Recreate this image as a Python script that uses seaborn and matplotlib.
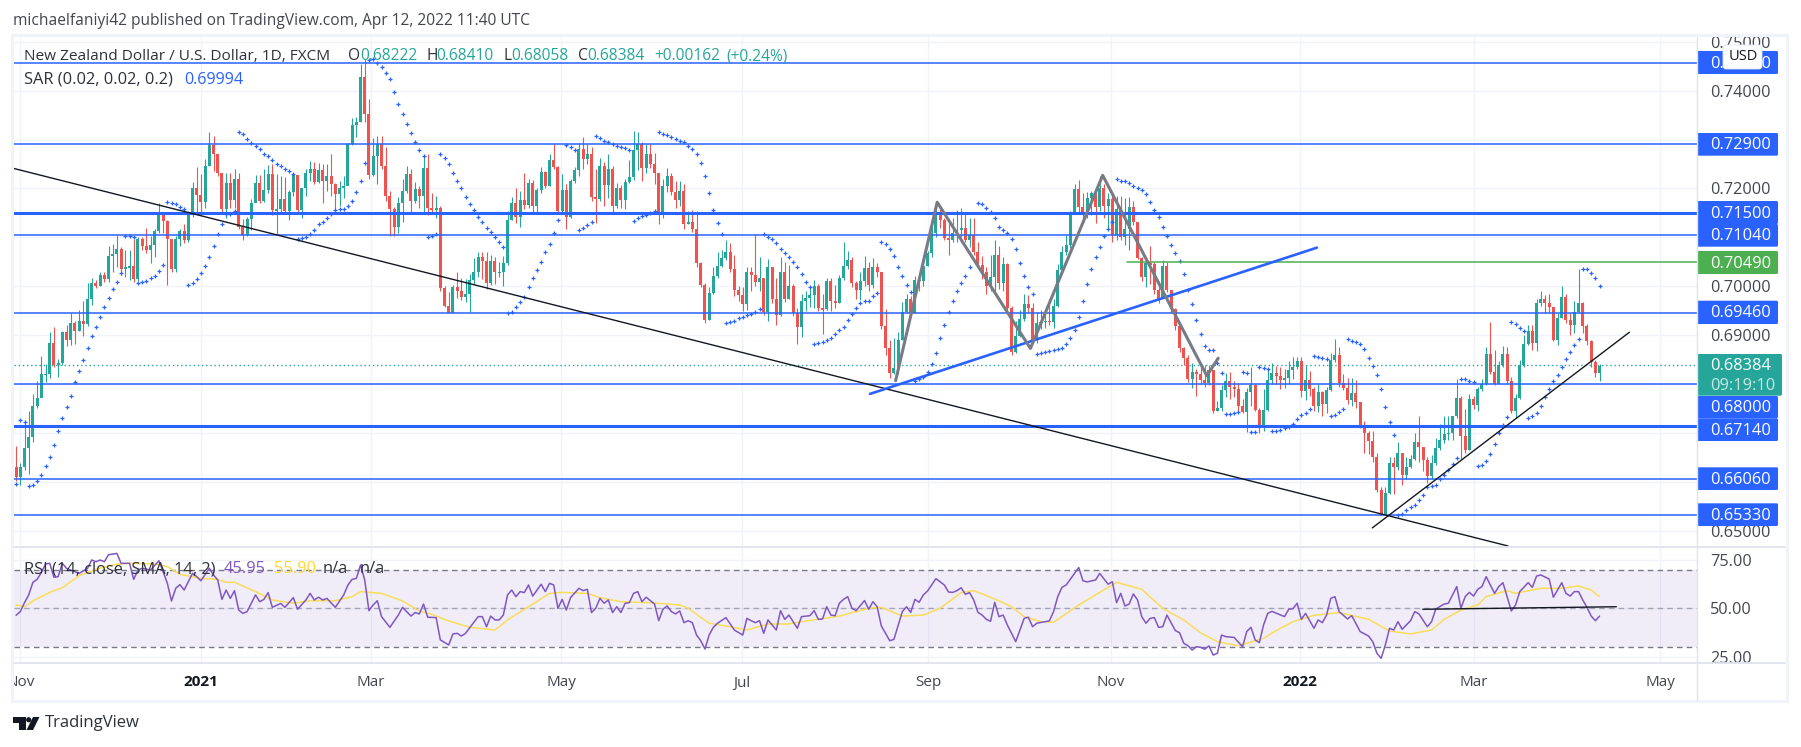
import numpy as np
import pandas as pd
import matplotlib
matplotlib.use('Agg')
import matplotlib.pyplot as plt
from matplotlib.patches import Rectangle, FancyBboxPatch, Polygon, Circle
import seaborn as sns

# ---------- data (prices in pips, 1/10000) ----------
first_open = 6631
closes = [
    6610,6631,6670,6692,6756,6772,6821,6821,6884,6839,
    6843,6907,6891,6925,6909,6929,6923,6974,7006,7000,
    7024,7014,7062,7067,7076,7035,7040,7041,7014,7096,
    7082,7075,7085,7113,7145,7134,7096,7035,7096,7113,
    7094,7149,7200,7186,7173,7247,7288,7270,7232,7159,
    7212,7176,7220,7122,7105,7138,7170,7212,7174,7196,
    7230,7156,7158,7178,7153,7193,7227,7156,7200,7232,
    7240,7213,7237,7215,7225,7210,7188,7200,7205,7292,
    7329,7336,7429,7353,7227,7266,7292,7246,7185,7158,
    7122,7170,7194,7229,7174,7198,7185,7241,7161,7157,
    7160,6996,6960,6946,6999,6990,6978,6985,7013,7030,
    7060,7052,7006,7052,7030,7030,7047,7135,7171,7142,
    7176,7166,7211,7165,7196,7234,7206,7258,7243,7155,
    7196,7142,7215,7237,7280,7261,7271,7183,7179,7247,
    7207,7239,7165,7202,7176,7213,7223,7278,7292,7241,
    7270,7251,7232,7145,7206,7225,7193,7176,7195,7128,
    7132,7118,7047,7003,6931,6986,7021,7042,7058,7070,
    7035,6992,6982,6964,7030,7023,7008,7016,6948,7040,
    6975,6942,7030,6975,7000,6945,6916,6969,6976,6982,
    7001,6955,6953,7010,6970,6966,7016,7042,7053,7006,
    6992,7010,7037,7003,7040,7030,6918,6874,6823,6833,
    6891,6948,6974,6945,7013,7010,7042,7068,7108,7150,
    7135,7098,7095,7108,7115,7120,7095,7105,7070,7043,
    7030,7000,7020,7065,7006,7045,6955,6865,6899,6933,
    6964,6955,6891,6925,6928,6930,6926,6960,7033,7070,
    7084,7152,7198,7162,7150,7180,7190,7163,7200,7165,
    7178,7104,7159,7100,7118,7162,7132,7058,7020,7047,
    7045,6992,6975,7042,6992,6953,6918,6874,6853,6810,
    6824,6820,6808,6802,6828,6744,6752,6787,6806,6794,
    6791,6755,6743,6784,6799,6748,6710,6748,6809,6823,
    6817,6809,6812,6828,6834,6848,6785,6809,6791,6755,
    6783,6760,6787,6850,6860,6802,6792,6767,6782,6763,
    6712,6700,6684,6651,6583,6534,6578,6639,6630,6659,
    6614,6631,6647,6681,6671,6644,6613,6639,6670,6686,
    6697,6700,6734,6771,6693,6666,6770,6758,6789,6801,
    6862,6824,6801,6840,6862,6806,6744,6772,6840,6882,
    6908,6885,6965,6974,6965,6958,6890,6936,6978,6931,
    6920,6947,6965,6918,6888,6845,6822,6838]
highs = [
    6674,6638,6724,6746,6780,6806,6858,6842,6907,6917,
    6852,6909,6920,6946,6929,6952,6969,7006,7018,7012,
    7030,7030,7082,7086,7105,7081,7075,7074,7096,7100,
    7100,7120,7102,7118,7170,7152,7135,7096,7102,7118,
    7127,7155,7213,7243,7230,7260,7316,7307,7262,7232,
    7232,7232,7240,7232,7137,7142,7178,7227,7228,7240,
    7248,7250,7230,7225,7224,7196,7230,7228,7200,7240,
    7256,7254,7253,7250,7250,7270,7212,7215,7225,7294,
    7345,7346,7455,7465,7382,7304,7308,7308,7284,7195,
    7162,7182,7220,7245,7240,7214,7205,7268,7270,7190,
    7185,7165,7000,6988,7002,7030,7018,7015,7026,7058,
    7070,7070,7070,7063,7060,7050,7061,7155,7182,7200,
    7195,7232,7220,7218,7200,7243,7235,7270,7290,7246,
    7230,7210,7220,7243,7294,7306,7290,7285,7240,7262,
    7255,7270,7245,7212,7208,7220,7258,7317,7316,7296,
    7290,7290,7273,7232,7220,7242,7232,7215,7216,7210,
    7155,7156,7154,7050,7006,6998,7040,7070,7075,7094,
    7088,7065,7000,6998,7040,7040,7106,7060,7018,7055,
    7012,7016,7060,7050,7044,7005,6955,6985,6990,7000,
    7012,7004,6985,7018,7018,7003,7024,7090,7073,7060,
    7010,7030,7062,7050,7057,7048,7030,6953,6890,6894,
    6907,6968,6985,6980,7022,7020,7063,7072,7130,7170,
    7165,7140,7130,7140,7157,7160,7150,7140,7140,7090,
    7062,7040,7064,7094,7083,7060,7048,6960,6930,6952,
    6984,6982,6965,6948,6952,6950,6975,6975,7046,7083,
    7104,7155,7210,7218,7190,7192,7195,7185,7226,7210,
    7190,7184,7184,7184,7180,7182,7175,7130,7060,7050,
    7082,7050,7010,7054,7050,6990,6955,6925,6875,6860,
    6843,6830,6835,6840,6840,6818,6765,6798,6822,6825,
    6806,6802,6770,6792,6835,6800,6752,6790,6830,6843,
    6838,6835,6830,6848,6856,6855,6856,6840,6827,6794,
    6800,6785,6795,6864,6893,6875,6820,6812,6813,6808,
    6759,6725,6705,6705,6660,6590,6590,6650,6650,6682,
    6655,6650,6655,6700,6735,6672,6650,6655,6690,6719,
    6735,6735,6735,6810,6775,6750,6780,6775,6795,6810,
    6875,6927,6870,6848,6878,6875,6815,6780,6850,6900,
    6920,6920,6975,6990,6983,6985,6950,6945,7000,6984,
    6945,6970,7035,6968,6923,6890,6850,6841]
lows = [
    6602,6593,6624,6617,6681,6751,6785,6805,6812,6836,
    6814,6839,6877,6879,6881,6908,6899,6918,6962,6996,
    7000,7008,7008,7030,7040,7024,7020,7012,7008,7010,
    7075,7068,7047,7059,7110,7110,7003,7030,7030,7083,
    7088,7090,7142,7150,7152,7160,7245,7236,7225,7150,
    7140,7160,7160,7118,7095,7103,7115,7172,7170,7172,
    7190,7145,7105,7150,7150,7135,7185,7150,7140,7185,
    7215,7210,7212,7170,7195,7185,7158,7165,7180,7215,
    7288,7305,7335,7337,7220,7225,7210,7240,7175,7102,
    7102,7108,7132,7190,7152,7170,7160,7150,7145,7150,
    7140,6990,6957,6945,6945,6976,6973,6968,6947,7005,
    7020,7015,6995,7003,7005,7020,7000,7044,7135,7130,
    7122,7158,7160,7150,7150,7190,7200,7205,7240,7150,
    7150,7117,7140,7212,7225,7240,7250,7175,7130,7175,
    7165,7180,7150,7160,7160,7158,7212,7217,7238,7215,
    7232,7242,7210,7127,7140,7193,7186,7160,7165,7118,
    7128,7112,7040,6998,6925,6931,6985,7018,7040,7053,
    7030,6980,6970,6950,6952,6990,7000,6990,6941,6930,
    6965,6920,6940,6968,6974,6940,6883,6897,6950,6957,
    6955,6950,6903,6952,6950,6955,6965,7012,7035,6998,
    6975,6972,7000,6990,6997,7020,6912,6859,6812,6820,
    6820,6890,6945,6940,6946,6990,7000,7042,7060,7100,
    7120,7095,7065,7090,7090,7100,7090,7080,7065,7040,
    7015,6985,6990,6990,6995,6990,6950,6860,6863,6896,
    6930,6945,6885,6885,6912,6915,6920,6914,6958,7030,
    7065,7078,7148,7150,7130,7140,7145,7130,7155,7140,
    7120,7090,7095,7095,7085,7075,7125,7055,7010,6998,
    7005,6985,6965,6990,6988,6945,6910,6865,6840,6805,
    6792,6775,6800,6795,6798,6740,6745,6745,6773,6770,
    6773,6745,6740,6703,6755,6745,6700,6705,6744,6800,
    6800,6790,6792,6800,6810,6830,6773,6768,6775,6745,
    6743,6735,6740,6785,6845,6795,6787,6760,6755,6752,
    6710,6660,6658,6640,6580,6532,6540,6575,6575,6625,
    6593,6605,6628,6645,6640,6623,6597,6605,6635,6665,
    6680,6685,6685,6730,6647,6660,6665,6750,6745,6785,
    6798,6820,6798,6800,6835,6800,6740,6730,6770,6835,
    6880,6870,6868,6960,6945,6945,6888,6880,6935,6925,
    6900,6905,6945,6905,6880,6835,6815,6806]
nan = float('nan')
sar = [
    6596,6727,6723,6591,6594,6602,6615,6633,6651,6676,
    6704,6731,6753,6776,6804,6827,6849,6874,6898,6916,
    6937,6957,6976,6994,7008,7028,7103,7103,7101,7006,
    7008,7011,7016,7022,7032,7044,7172,7171,7168,7162,
    7158,7002,7006,7014,7028,7041,7060,7083,7107,7128,
    7147,7147,7155,7316,7312,7302,7293,7287,7280,7271,
    7266,7259,7251,7245,7239,7236,7229,7096,7098,7101,
    7107,7116,7127,7132,7139,7147,7157,7158,7159,7165,
    7174,7193,7215,7252,7463,7464,7456,7448,7436,7424,
    7398,7373,7353,7332,7314,7295,7279,7266,7100,7103,
    7106,7270,7263,7251,7232,7216,7200,7183,7169,7157,
    7142,7132,7120,7111,7100,7090,7081,6945,6948,6957,
    6967,6979,6999,7018,7034,7050,7071,7087,7110,7135,
    nan,7288,7284,7279,7116,7120,7125,7131,7307,7304,
    7298,7295,7291,7287,7285,7283,7279,7134,7139,7143,
    7146,7150,7154,7316,7312,7309,7305,7302,7298,7295,
    7287,7281,7271,7253,7226,7190,7157,7130,7106,6925,
    6927,6930,6935,6937,6942,6943,6947,6953,7106,7101,
    7096,7088,7077,7069,7059,7050,7040,7025,7009,6998,
    6882,6884,6887,6890,6894,6902,6910,6916,6931,6943,
    6955,6965,6969,6969,6980,6987,7090,7086,7077,7061,
    7040,7022,7003,6988,6806,6811,6814,6825,6841,6863,
    6894,6920,6947,6969,6990,7006,7022,7039,nan,7171,
    7168,7161,7151,7139,7122,7115,7108,7096,7077,7047,
    7022,6998,6984,6861,6863,6865,6867,6870,6872,6874,
    6882,6894,6911,6937,6969,7004,7035,7059,7081,7102,
    7118,7132,7219,7216,7215,7212,7206,7200,7196,7188,
    7173,7156,7141,7122,7102,7084,7069,7051,7026,6993,
    6964,6931,6903,6878,6870,6870,6843,6823,6739,6739,
    6740,6743,6824,6823,6702,6702,6835,6833,6831,6704,
    6705,6706,6710,6713,6719,6728,6736,6741,6749,6857,
    6856,6853,6851,6735,6737,6743,6750,6892,6889,6886,
    6882,6872,6853,6838,6818,6790,6753,6723,6696,6532,
    6534,6542,6549,6552,6563,6574,6589,6591,6593,6605,
    6615,6625,6636,6649,6810,6810,6807,6804,6632,6635,
    6642,6658,6678,6699,6716,6733,6927,6923,6914,6908,
    6731,6735,6741,6755,6774,6791,6806,6819,6836,6851,
    6865,6880,6892,7035,7035,7028,7016,7000]

rsi_bars = [0,1,2,3,4,5,6,7,8,9,10,11,12,13,14,15,17,18,19,20,21,22,24,25,27,28,29,30,32,34,35,36,37,38,39,40,42,43,44,46,47,48,49,50,51,52,53,54,55,57,58,59,60,61,63,64,66,67,69,70,71,72,73,74,76,78,79,80,81,82,83,84,85,86,87,89,91,92,94,95,96,97,98,100,101,103,104,105,106,107,110,111,112,113,114,115,116,117,118,119,120,121,122,123,125,126,127,128,129,130,131,132,134,135,136,137,138,139,
    140,141,142,143,144,145,146,147,148,149,150,151,152,153,154,155,156,157,158,159,160,161,162,163,164,165,166,167,169,171,173,174,175,176,177,178,179,181,182,183,184,186,187,189,190,191,192,193,194,195,196,197,198,199,200,202,203,204,205,206,208,209,211,212,213,214,215,216,217,219,221,222,223,224,225,226,227,228,229,230,231,232,233,234,235,236,238,240,241,242,243,246,247,248,249,250,253,254,255,257,258,260,261,262,263,264,265,266,267,268,269,270,271,272,273,274,276,277,278,279,280,281,282,
    283,284,285,286,287,288,290,292,293,294,295,296,297,298,299,302,303,304,305,306,307,309,310,311,312,313,314,315,317,318,320,322,323,324,325,326,327,328,329,330,332,333,334,336,337,338,340,341,343,344,345,346,347,348,349,350,352,353,354,356,357,358,360,361,362,363,365,366,368,369,370,371,372,373,374,375,376,377]
rsi_vals = [46.4,48.3,52.9,56.9,63.4,64.9,68.4,72.8,73.2,66.0,66.3,73.2,70.6,69.7,68.9,68.0,70.6,74.9,74.0,74.9,74.0,77.6,78.3,73.2,73.2,64.9,69.7,70.6,69.7,74.5,68.9,62.9,53.8,60.3,62.2,59.4,68.0,66.3,64.2,70.6,67.2,64.6,54.6,59.4,55.1,59.1,49.1,47.4,48.3,56.9,53.4,54.6,58.1,50.5,52.5,50.5,55.5,49.5,54.3,57.7,54.3,55.7,54.3,55.1,50.5,56.9,62.0,64.9,65.4,72.3,64.6,48.8,51.7,53.9,45.7,40.2,46.5,50.5,46.0,47.8,47.1,52.2,45.4,45.2,33.7,31.1,36.8,37.1,35.7,37.1,45.7,45.7,40.5,46.0,44.0,44.0,46.5,56.9,59.4,56.0,58.6,58.1,62.0,56.3,62.4,58.6,62.9,62.0,50.0,54.6,49.1,55.5,60.3,59.1,59.8,47.8,50.0,55.1,
    52.6,54.3,47.8,50.8,47.8,52.6,52.9,57.7,58.6,53.4,55.7,54.0,52.2,43.6,49.5,51.2,48.3,47.1,48.6,42.6,43.6,42.6,36.2,33.3,29.0,36.2,40.2,42.3,45.2,38.8,36.2,44.8,43.6,42.6,43.6,37.1,44.0,38.8,48.8,44.3,46.5,39.7,45.7,46.2,48.8,44.3,44.5,50.8,46.5,46.2,52.6,54.6,56.0,50.0,48.8,54.0,49.5,53.4,50.8,40.9,33.3,34.0,48.3,50.8,47.9,54.6,53.1,56.9,58.9,65.3,62.0,58.4,58.2,59.1,60.6,57.2,58.1,54.3,47.9,46.5,44.3,43.3,53.1,45.7,46.5,41.4,32.8,44.8,45.4,40.5,42.3,43.5,48.3,56.0,60.8,62.0,71.0,64.2,63.6,64.6,68.0,62.4,63.7,52.9,57.7,51.2,52.2,57.4,54.3,45.7,42.3,44.8,45.2,40.2,40.5,46.5,38.5,37.4,32.0,30.7,28.5,30.2,29.9,
    28.9,30.6,25.9,26.8,36.2,35.4,35.0,30.2,38.0,40.2,33.7,32.3,41.4,47.4,48.4,45.7,49.5,49.8,52.6,44.3,47.4,39.7,44.0,42.6,46.5,55.1,56.0,48.3,44.5,46.2,38.0,35.7,32.8,26.8,24.2,31.1,39.7,38.8,43.1,39.2,43.6,48.3,47.1,40.5,43.1,49.6,52.2,52.6,61.2,50.0,56.0,58.2,56.3,59.8,61.2,66.3,57.7,61.2,63.2,48.6,51.7,58.6,63.2,60.8,66.6,67.2,65.1,55.7,63.2,57.7,56.3,58.6,58.6,54.3,50.5,46.0,43.6,46.0]
ma_bars = [0,2,4,8,11,15,19,24,28,33,36,39,44,48,50,52,57,61,66,70,76,80,82,87,92,96,99,103,108,114,117,122,127,130,136,139,144,151,158,160,165,170,174,179,184,187,196,203,206,211,216,220,225,228,233,237,240,244,247,253,257,262,268,273,278,282,286,291,297,300,304,309,315,322,327,332,337,340,344,348,350,355,357,363,368,372,375,377]
ma_vals = [51.7,50.8,53.8,58.2,60.6,66.8,70.1,72.8,73.2,72.8,71.5,67.5,65.4,64.9,63.4,63.4,58.6,54.3,52.6,53.9,53.9,56.0,58.6,57.7,53.8,48.6,46.9,43.5,40.2,38.8,44.0,50.8,57.7,58.2,57.7,55.5,53.4,52.9,51.7,50.0,42.3,40.5,38.8,41.9,41.9,43.1,46.0,50.0,50.5,46.0,46.5,50.0,58.1,59.1,54.8,50.8,45.7,43.1,42.8,51.7,56.9,63.4,59.8,50.0,44.0,37.4,32.8,30.7,34.5,38.5,43.1,46.4,47.8,44.3,38.3,36.8,38.8,44.3,49.1,51.7,56.0,59.1,57.7,60.3,60.3,61.5,59.4,56.0]

tick_bars = [1.0,44.1,84.4,129.8,172.9,217.2,260.6,305.7,347.1,391.4]
tick_labels = ['Nov','2021','Mar','May','Jul','Sep','Nov','2022','Mar','May']
price_ticks = [0.65,0.66,0.67,0.68,0.69,0.70,0.71,0.72,0.73,0.74,0.75]
price_tick_labels = ['0.65000','','','','0.69000','0.70000','','0.72000','','0.74000','0.75000']
thin_levels = [0.7457,0.7290,0.7104,0.6946,0.6800,0.6606,0.6533]
thick_levels = [0.7150,0.6714]
last_price = 0.68384
green_level = 0.7049

down_line_x, down_line_y = [-0.55,355.2], [0.7241,0.6469]
up_blue_x, up_blue_y = [203.3,309.7], [0.6780,0.7079]
up_black_x, up_black_y = [322.9,384.1], [0.6506,0.6906]
pattern_x = [209.4,219.3,241.5,258.7,283.5,286.2]
pattern_y = [0.6807,0.7172,0.6873,0.7227,0.6817,0.6853]
green_x, green_y = [264.5,400.2], [green_level,green_level]
rsi_trend_x, rsi_trend_y = [334.9,381.0], [49.5,50.8]

# ---------- frame layout, in pixels ----------
W, H = 1801, 747
PANE_L, PANE_R = 13.8, 1697
MAIN_T, MAIN_B, RSI_B, FRAME_B = 37, 547, 663, 700

GREEN, RED, BLUE = '#26a69a', '#ef5350', '#2962ff'
GRID = '#f0f3fa'
BORDER = '#e0e3eb'
TXT = '#2e313a'

sns.set_theme(style='white')
plt.rcParams['font.family'] = ['Open Sans', 'DejaVu Sans']

def box(l, t, r, b):
    return [l / W, 1 - b / H, (r - l) / W, (b - t) / H]

fig = plt.figure(figsize=(W / 100, H / 100), dpi=100, facecolor='white')
ax = fig.add_axes(box(PANE_L, MAIN_T, PANE_R, MAIN_B))
ax_rsi = fig.add_axes(box(PANE_L, MAIN_B, PANE_R, RSI_B))

# ---------- price pane ----------
df = pd.DataFrame({'bar': np.arange(len(closes)), 'close': closes, 'high': highs, 'low': lows, 'sar': sar})
for c in ['close', 'high', 'low', 'sar']:
    df[c] = df[c] / 10000
df['open'] = df['close'].shift(1).fillna(first_open / 10000)
df['up'] = df['close'] >= df['open']
df['color'] = df['up'].map({True: GREEN, False: RED})
df['top'] = df[['open', 'close']].max(axis=1)
df['height'] = (df['close'] - df['open']).abs().clip(lower=0.0003)

ax.vlines(df['bar'], df['low'], df['high'], colors=df['color'], linewidth=0.8, zorder=3)
ax.bar(df['bar'], df['height'], bottom=df['top'] - df['height'], width=0.7, color=df['color'], linewidth=0, zorder=3)
sns.scatterplot(data=df, x='bar', y='sar', marker='+', color=BLUE, s=7, linewidth=0.9, ax=ax, zorder=4)

for lvl in thin_levels:
    ax.axhline(lvl, color=BLUE, lw=1.1, zorder=5)
for lvl in thick_levels:
    ax.axhline(lvl, color=BLUE, lw=2.2, zorder=5)
ax.axhline(last_price, color=GREEN, lw=1, ls=(0, (1, 2)), zorder=2)

sns.lineplot(x=green_x, y=green_y, color='#4caf50', lw=1.1, ax=ax, zorder=5)
sns.lineplot(x=down_line_x, y=down_line_y, color='#131722', lw=1.0, ax=ax, zorder=6)
sns.lineplot(x=up_black_x, y=up_black_y, color='#131722', lw=1.0, ax=ax, zorder=6)
sns.lineplot(x=up_blue_x, y=up_blue_y, color=BLUE, lw=1.9, ax=ax, zorder=6)
sns.lineplot(x=pattern_x, y=pattern_y, color='#787b86', lw=2.2, ax=ax, zorder=6)

ax.set_xlim(-0.55, 400.2)
ax.set_ylim(0.64669, 0.75098)
ax.set_xticks(tick_bars)
ax.set_xticklabels([])
ax.set_yticks(price_ticks)
ax.set_yticklabels(price_tick_labels)
ax.yaxis.tick_right()
ax.tick_params(axis='y', length=0, pad=9.3, labelsize=11.7, labelcolor='#434651')
ax.tick_params(axis='x', length=0)
ax.grid(True, color=GRID, lw=1, zorder=0)
ax.set_axisbelow(True)
ax.set_xlabel('')
ax.set_ylabel('')
for s in ax.spines.values():
    s.set_visible(False)

# ---------- RSI pane ----------
ax_rsi.axhspan(30, 70, color='#7e57c2', alpha=0.1, lw=0, zorder=1)
for lvl, alpha in [(70, 1), (50, 0.6), (30, 1)]:
    ax_rsi.axhline(lvl, color='#787b86', lw=1, ls=(0, (4, 3)), alpha=alpha, zorder=2)
sns.lineplot(x=rsi_bars, y=rsi_vals, color='#7e57c2', lw=1.1, estimator=None, ax=ax_rsi, zorder=4)
sns.lineplot(x=ma_bars, y=ma_vals, color='#f7dd5a', lw=1.1, estimator=None, ax=ax_rsi, zorder=3)
sns.lineplot(x=rsi_trend_x, y=rsi_trend_y, color='#131722', lw=1.0, ax=ax_rsi, zorder=5)

ax_rsi.set_xlim(-0.55, 400.2)
ax_rsi.set_ylim(21.8, 81.6)
ax_rsi.set_xticks(tick_bars)
ax_rsi.set_xticklabels(tick_labels)
ax_rsi.set_yticks([25, 50, 75])
ax_rsi.set_yticklabels(['25.00', '50.00', '75.00'])
ax_rsi.yaxis.tick_right()
ax_rsi.tick_params(axis='y', length=0, pad=9.3, labelsize=11.7, labelcolor='#434651')
ax_rsi.tick_params(axis='x', length=0, pad=9, labelsize=11, labelcolor='#434651')
for lab in ax_rsi.get_xticklabels():
    if lab.get_text() in ('2021', '2022'):
        lab.set_fontweight('bold')
        lab.set_color('#131722')
ax_rsi.grid(True, color=GRID, lw=1, zorder=0)
ax_rsi.set_axisbelow(True)
ax_rsi.set_xlabel('')
ax_rsi.set_ylabel('')
for s in ax_rsi.spines.values():
    s.set_visible(False)

# ---------- overlay: frame, legends, price boxes ----------
ov = fig.add_axes([0, 0, 1, 1], zorder=10)
ov.set_xlim(0, W)
ov.set_ylim(H, 0)
ov.axis('off')
ov.patch.set_alpha(0)

ov.add_patch(Rectangle((0, MAIN_T), 12, FRAME_B - MAIN_T, color='white', lw=0))
ov.add_patch(Rectangle((12, 35), 1775, 666, fill=False, ec=GRID, lw=2.2))
ov.plot([PANE_R, PANE_R], [MAIN_T, FRAME_B], color=BORDER, lw=1)
ov.plot([PANE_L, 1785], [MAIN_B, MAIN_B], color=BORDER, lw=1.3)
ov.plot([PANE_L, 1785], [RSI_B, RSI_B], color=BORDER, lw=1.3)

def label(x, y, s, color=TXT, size=11.8, **kw):
    ov.text(x, y, s, color=color, fontsize=size, va='center', ha='left', **kw)

label(12.5, 20.7, 'michaelfaniyi42 published on TradingView.com, Apr 12, 2022 11:40 UTC', '#434651', 11.2)
label(23.7, 56.5, 'New Zealand Dollar / U.S. Dollar, 1D, FXCM', TXT, 11.1)
for x, s, c in [(348, 'O', TXT), (360, '0.68222', GREEN), (426, 'H', TXT), (436, '0.68410', GREEN),
                (503, 'L', TXT), (511, '0.68058', GREEN), (578, 'C', TXT), (587, '0.68384', GREEN),
                (654, '+0.00162', GREEN), (726, '(+0.24%)', GREEN)]:
    label(x, 56.5, s, c, 11.2)
label(23.7, 80, 'SAR (0.02, 0.02, 0.2)', TXT)
label(184.5, 80, '0.69994', BLUE, 11.6)
label(23.7, 569, 'RSI (14, close, SMA, 14, 2)', TXT)
label(224, 569, '45.95', '#7e57c2')
label(273.6, 569, '55.90', '#fdd835')
label(323, 569, 'n/a', TXT)
label(360, 569, 'n/a', TXT)

# price boxes: text, top, bottom, colour
price_boxes = [('0.74570', 51, 74, BLUE), ('0.72900', 133, 155.7, BLUE), ('0.71500', 201, 224, BLUE),
               ('0.71040', 224, 246.7, BLUE), ('0.70490', 251, 274, '#4caf50'), ('0.69460', 300.7, 324, BLUE),
               ('0.68000', 396, 418.3, BLUE), ('0.67140', 418.3, 441, BLUE), ('0.66060', 467.3, 490, BLUE),
               ('0.65330', 503.3, 526, BLUE)]
for s, t, b, c in price_boxes:
    ov.add_patch(FancyBboxPatch((PANE_R, t), 1778 - PANE_R, b - t, boxstyle='round,pad=0,rounding_size=1.5', fc=c, ec=c, lw=0))
    label(1710, (t + b) / 2 + 1, s, 'white', 11.8)
ov.add_patch(FancyBboxPatch((PANE_R, 354), 1782 - PANE_R, 41.7, boxstyle='round,pad=0,rounding_size=1.5', fc=GREEN, ec=GREEN, lw=0))
label(1710, 366.5, '0.68384', 'white', 11.8)
label(1710, 385.5, '09:19:10', '#c8e8e4', 11.8)

ov.add_patch(FancyBboxPatch((1723, 45), 39, 24, boxstyle='round,pad=0,rounding_size=3', fc='white', ec=BORDER, lw=0.6))
label(1729, 57, 'USD', '#131722', 10.5)

# TradingView logo
logo = '#131722'
ov.add_patch(Polygon([(13.4, 717), (25.5, 717), (25.5, 730), (19, 730), (19, 723), (13.4, 723)], color=logo, lw=0))
ov.add_patch(Circle((28.7, 719.8), 2.6, color=logo, lw=0))
ov.add_patch(Polygon([(33, 717), (39.5, 717), (33, 730), (26.5, 730)], color=logo, lw=0))
label(45, 723, 'TradingView', '#2e313a', 12)

fig.savefig('out.png', dpi=100, facecolor='white')
